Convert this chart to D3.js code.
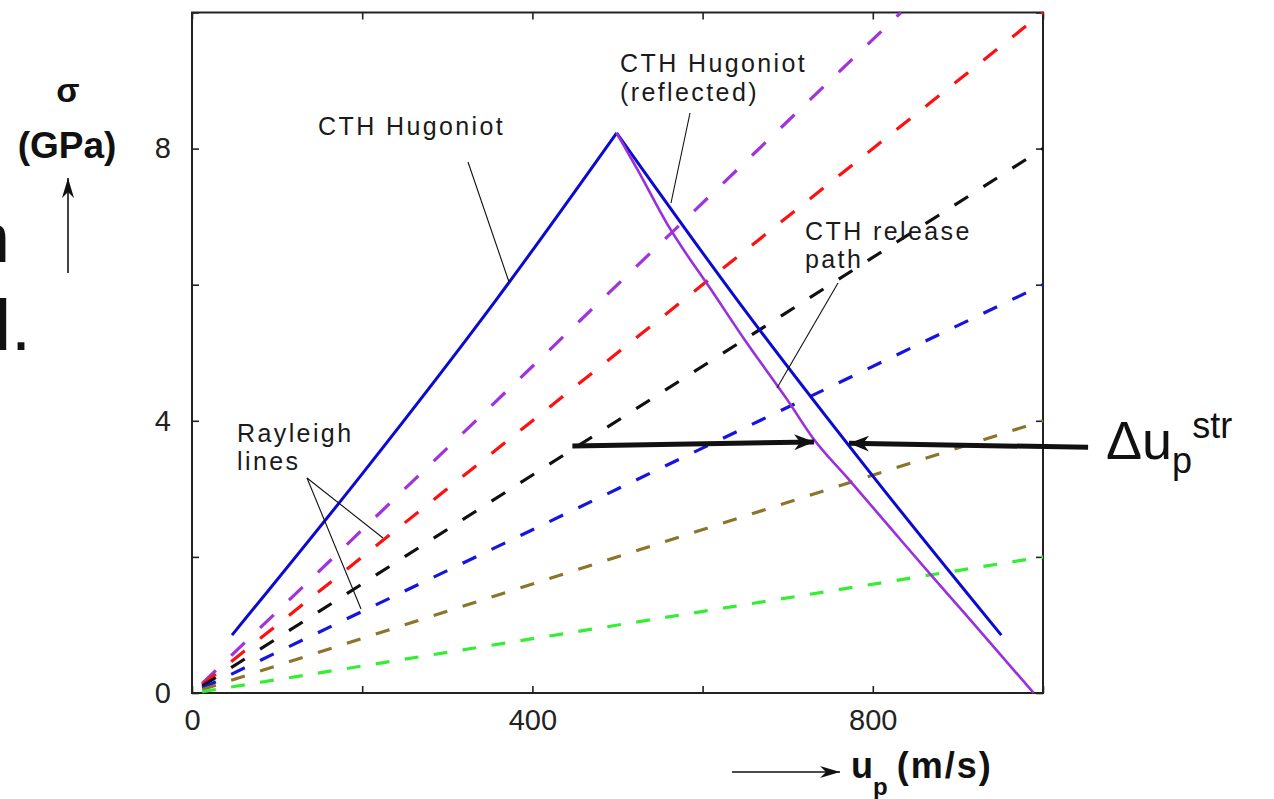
<!DOCTYPE html>
<html>
<head>
<meta charset="utf-8">
<script src="https://cdn.jsdelivr.net/npm/d3@7"></script>
<style>
  html, body { margin: 0; padding: 0; background: #fff; }
  svg { display: block; }
  text { font-family: "Liberation Sans", Arial, sans-serif; }
</style>
</head>
<body>
<svg id="chart" width="1274" height="799"></svg>
<script>
// ---------------- data ----------------
const xTicks = [0, 200, 400, 600, 800, 1000];
const xTickLabels = ["0", "", "400", "", "800", ""];
const yTicks = [0, 2, 4, 6, 8, 10];
const yTickLabels = ["0", "", "4", "", "8", ""];

// CTH Hugoniot (rising) and its reflection
const hugoniotU = [47, 200, 357, 499];
const hugoniotS = [0.85, 3.22, 5.77, 8.23];
const reflectedU = [499, 641, 798, 951];
const reflectedS = [8.23, 5.77, 3.22, 0.85];

// CTH release path
const releaseU = [499, 524, 558, 613, 650, 700, 730, 771, 830, 868, 910, 951, 989];
const releaseS = [8.23, 7.68, 6.90, 5.87, 5.18, 4.30, 3.74, 3.15, 2.29, 1.74, 1.14, 0.55, 0];

// Rayleigh lines (end points)
const rayleighNames = ["purple", "red", "black", "blue", "brown", "green"];
const rayleighU0 = [12, 12, 12, 12, 12, 12];
const rayleighS0 = [0.14, 0.12, 0.10, 0.07, 0.05, 0.02];
const rayleighU1 = [833, 1000, 1000, 1000, 1000, 1000];
const rayleighS1 = [10, 10, 8, 6, 4, 2];
const rayleighColors = ["#a033dc", "#ff1010", "#111111", "#1515e0", "#8c7428", "#33ee33"];

// ---------------- layout ----------------
const svg = d3.select("#chart");
const x = d3.scaleLinear().domain([0, 1000]).range([192, 1043]);
const y = d3.scaleLinear().domain([0, 10]).range([693, 12.5]);

// defs: arrow markers
const defs = svg.append("defs");
function marker(id, len, half) {
  defs.append("marker").attr("id", id)
    .attr("markerUnits", "userSpaceOnUse")
    .attr("viewBox", `0 ${-half} ${len} ${2 * half}`)
    .attr("refX", len).attr("refY", 0)
    .attr("markerWidth", len).attr("markerHeight", 2 * half)
    .attr("orient", "auto")
    .append("path").attr("d", `M0,${-half}L${len},0L0,${half}L${len * 0.3},0Z`).attr("fill", "#111");
}
marker("bigArrow", 20, 8);
marker("smallArrow", 20, 6);

// axes (inward ticks) on all four sides
const axisG = svg.append("g").attr("class", "axes");
axisG.append("g").attr("transform", `translate(0,${y(0)})`)
  .call(d3.axisBottom(x).tickValues(xTicks).tickSize(-7).tickPadding(16)
    .tickFormat((d, i) => xTickLabels[i]))
  .call(g => g.select(".domain").remove());
axisG.append("g").attr("transform", `translate(0,${y(10)})`)
  .call(d3.axisTop(x).tickValues(xTicks).tickSize(-7).tickFormat(""))
  .call(g => g.select(".domain").remove());
axisG.append("g").attr("transform", `translate(${x(0)},0)`)
  .call(d3.axisLeft(y).tickValues(yTicks).tickSize(-7).tickPadding(21)
    .tickFormat((d, i) => yTickLabels[i]))
  .call(g => g.select(".domain").remove());
axisG.append("g").attr("transform", `translate(${x(1000)},0)`)
  .call(d3.axisRight(y).tickValues(yTicks).tickSize(-7).tickFormat(""))
  .call(g => g.select(".domain").remove());
axisG.selectAll(".tick line").attr("stroke", "#222").attr("stroke-width", 1.6);
axisG.selectAll(".tick text").attr("font-size", 29).attr("fill", "#222")
  .attr("font-family", "Liberation Sans, Arial, sans-serif");

// plot frame
svg.append("rect").attr("x", x(0)).attr("y", y(10))
  .attr("width", x(1000) - x(0)).attr("height", y(0) - y(10))
  .attr("fill", "none").attr("stroke", "#222").attr("stroke-width", 2);

// ---------------- series ----------------
const line = d3.line().x(d => x(d[0])).y(d => y(d[1]));
const smooth = d3.line().x(d => x(d[0])).y(d => y(d[1])).curve(d3.curveMonotoneX);
const plot = svg.append("g");

rayleighNames.forEach((name, i) => {
  const pts = [[rayleighU0[i], rayleighS0[i]], [rayleighU1[i], rayleighS1[i]]];
  const L = Math.hypot(x(pts[1][0]) - x(pts[0][0]), y(pts[1][1]) - y(pts[0][1]));
  const f = L / (pts[1][0] - pts[0][0]);
  plot.append("path").datum(pts).attr("d", line)
    .attr("fill", "none").attr("stroke", rayleighColors[i]).attr("stroke-width", 3.2)
    .attr("stroke-dasharray", `${16 * f} ${18 * f}`);
});

plot.append("path").datum(hugoniotU.map((u, i) => [u, hugoniotS[i]])).attr("d", smooth)
  .attr("fill", "none").attr("stroke", "#0a0ad0").attr("stroke-width", 3);
plot.append("path").datum(reflectedU.map((u, i) => [u, reflectedS[i]])).attr("d", smooth)
  .attr("fill", "none").attr("stroke", "#0a0ad0").attr("stroke-width", 3);
plot.append("path").datum(releaseU.map((u, i) => [u, releaseS[i]])).attr("d", smooth)
  .attr("fill", "none").attr("stroke", "#9a30dc").attr("stroke-width", 2.6)
  .attr("stroke-linejoin", "round");

// ---------------- annotations ----------------
const ann = svg.append("g").attr("fill", "#1a1a1a").attr("font-size", 25).attr("letter-spacing", 2.4);
ann.append("text").attr("x", 318).attr("y", 135).text("CTH Hugoniot");
ann.append("text").attr("x", 620).attr("y", 72).text("CTH Hugoniot");
ann.append("text").attr("x", 620).attr("y", 101).text("(reflected)");
ann.append("text").attr("x", 805).attr("y", 240).text("CTH release");
ann.append("text").attr("x", 805).attr("y", 268).text("path");
ann.append("text").attr("x", 237).attr("y", 442).text("Rayleigh");
ann.append("text").attr("x", 237).attr("y", 470).text("lines");

const leaders = [
  [[468, 162], [509, 282]],
  [[690, 113], [671, 203]],
  [[838, 283], [777, 388]],
  [[307, 478], [383, 538]],
  [[307, 478], [361, 609]]
];
svg.append("g").selectAll("line").data(leaders).join("line")
  .attr("x1", d => d[0][0]).attr("y1", d => d[0][1])
  .attr("x2", d => d[1][0]).attr("y2", d => d[1][1])
  .attr("stroke", "#111").attr("stroke-width", 1.1);

// Δu_p^str arrows (data coordinates)
const arrows = [
  [[447, 3.63], [731, 3.69]],
  [[1053, 3.61], [772, 3.67]]
];
svg.append("g").selectAll("line").data(arrows).join("line")
  .attr("x1", d => x(d[0][0])).attr("y1", d => y(d[0][1]))
  .attr("x2", d => x(d[1][0])).attr("y2", d => y(d[1][1]))
  .attr("stroke", "#111").attr("stroke-width", 5)
  .attr("marker-end", "url(#bigArrow)");

const dlab = svg.append("text").attr("x", 1106).attr("y", 459).attr("font-size", 54).attr("fill", "#111");
dlab.append("tspan").text("Δu");
dlab.append("tspan").attr("font-size", 36).attr("dy", 14).text("p");
dlab.append("tspan").attr("font-size", 36).attr("dy", -35).text("str");

// y-axis title
svg.append("text").attr("x", 68).attr("y", 102).attr("text-anchor", "middle")
  .attr("font-family", "Liberation Serif, Times New Roman, serif").attr("font-weight", "bold")
  .attr("font-size", 34).attr("fill", "#111").text("σ");
svg.append("text").attr("x", 67).attr("y", 158).attr("text-anchor", "middle")
  .attr("font-weight", "bold").attr("font-size", 37).attr("fill", "#111").text("(GPa)");
svg.append("line").attr("x1", 68).attr("y1", 273).attr("x2", 68).attr("y2", 178)
  .attr("stroke", "#111").attr("stroke-width", 1.6).attr("marker-end", "url(#smallArrow)");

// x-axis title
const xl = svg.append("text").attr("x", 851).attr("y", 778).attr("font-weight", "bold")
  .attr("font-size", 36).attr("fill", "#111");
xl.append("tspan").text("u");
xl.append("tspan").attr("font-size", 24).attr("dy", 17).text("p");
xl.append("tspan").attr("dy", -17).attr("dx", 9).attr("letter-spacing", 2).text("(m/s)");
svg.append("line").attr("x1", 732).attr("y1", 772).attr("x2", 840).attr("y2", 772)
  .attr("stroke", "#111").attr("stroke-width", 1.6).attr("marker-end", "url(#smallArrow)");

// slide fragments at the left edge (cut off in the reference too)
svg.append("text").attr("x", -29).attr("y", 262).attr("font-size", 70).attr("fill", "#111").text("n");
svg.append("text").attr("x", -5).attr("y", 350).attr("font-size", 72).attr("fill", "#111").text("l.");
</script>
</body>
</html>
